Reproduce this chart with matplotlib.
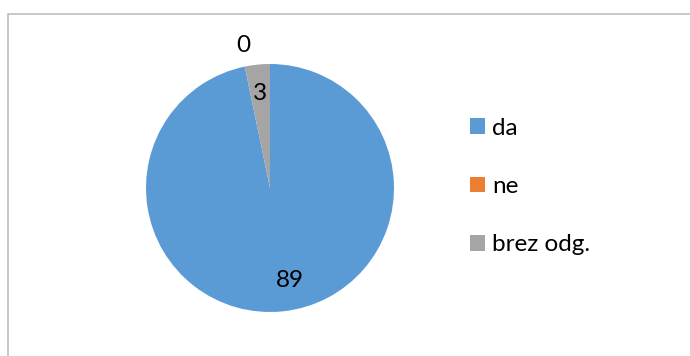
import numpy as np
import matplotlib
matplotlib.use("Agg")
import matplotlib.pyplot as plt
from matplotlib.patches import Patch, Rectangle

categories = ["da", "ne", "brez odg."]
values = [89, 0, 3]
colors = ["#5B9BD5", "#ED7D31", "#A5A5A5"]
# radial position of each value label (fraction of radius) and a nudge in px
label_dist = [0.73, 1.17, 0.77]
label_nudge = [(11, -2), (3, 0), (0, 0)]

plt.rcParams['font.family'] = ['Lato', 'DejaVu Sans']
FS = 17.5

W, H = 690, 356
fig = plt.figure(figsize=(W / 100, H / 100), dpi=100)

# pie centred at (270, 188) px, radius 124 px
cx, cy, r = 270, 188, 124
ax = fig.add_axes([(cx - r) / W, (H - cy - r) / H, 2 * r / W, 2 * r / H])
wedges, _ = ax.pie(values, colors=colors, startangle=90, counterclock=False,
                   radius=1.0)
ax.set_xlim(-1, 1)
ax.set_ylim(-1, 1)
ax.set_aspect('equal')
ax.axis('off')

for w, v, d, nudge in zip(wedges, values, label_dist, label_nudge):
    mid = np.deg2rad((w.theta1 + w.theta2) / 2)
    ax.annotate(str(v), (d * np.cos(mid), d * np.sin(mid)),
                xytext=(nudge[0] * 0.72, nudge[1] * 0.72),
                textcoords='offset points', ha='center', va='center',
                fontsize=FS, color='#000000', annotation_clip=False)

handles = [Patch(facecolor=c, edgecolor='none') for c in colors]
fig.legend(handles, categories, loc='center left',
           bbox_to_anchor=(470 / W, 1 - 186.5 / H), frameon=False,
           fontsize=FS, handlelength=0.62, handleheight=0.62,
           handletextpad=0.29, labelspacing=1.54, borderpad=0,
           borderaxespad=0)

# outer chart border (runs off the right and bottom edges)
fig.add_artist(Rectangle((7.5 / W, -0.1), 1.2, (H - 14) / H + 0.1,
                         transform=fig.transFigure, fill=False,
                         edgecolor='#BFBFBF', linewidth=1.2))

fig.savefig("out.png", dpi=100, facecolor='white')
